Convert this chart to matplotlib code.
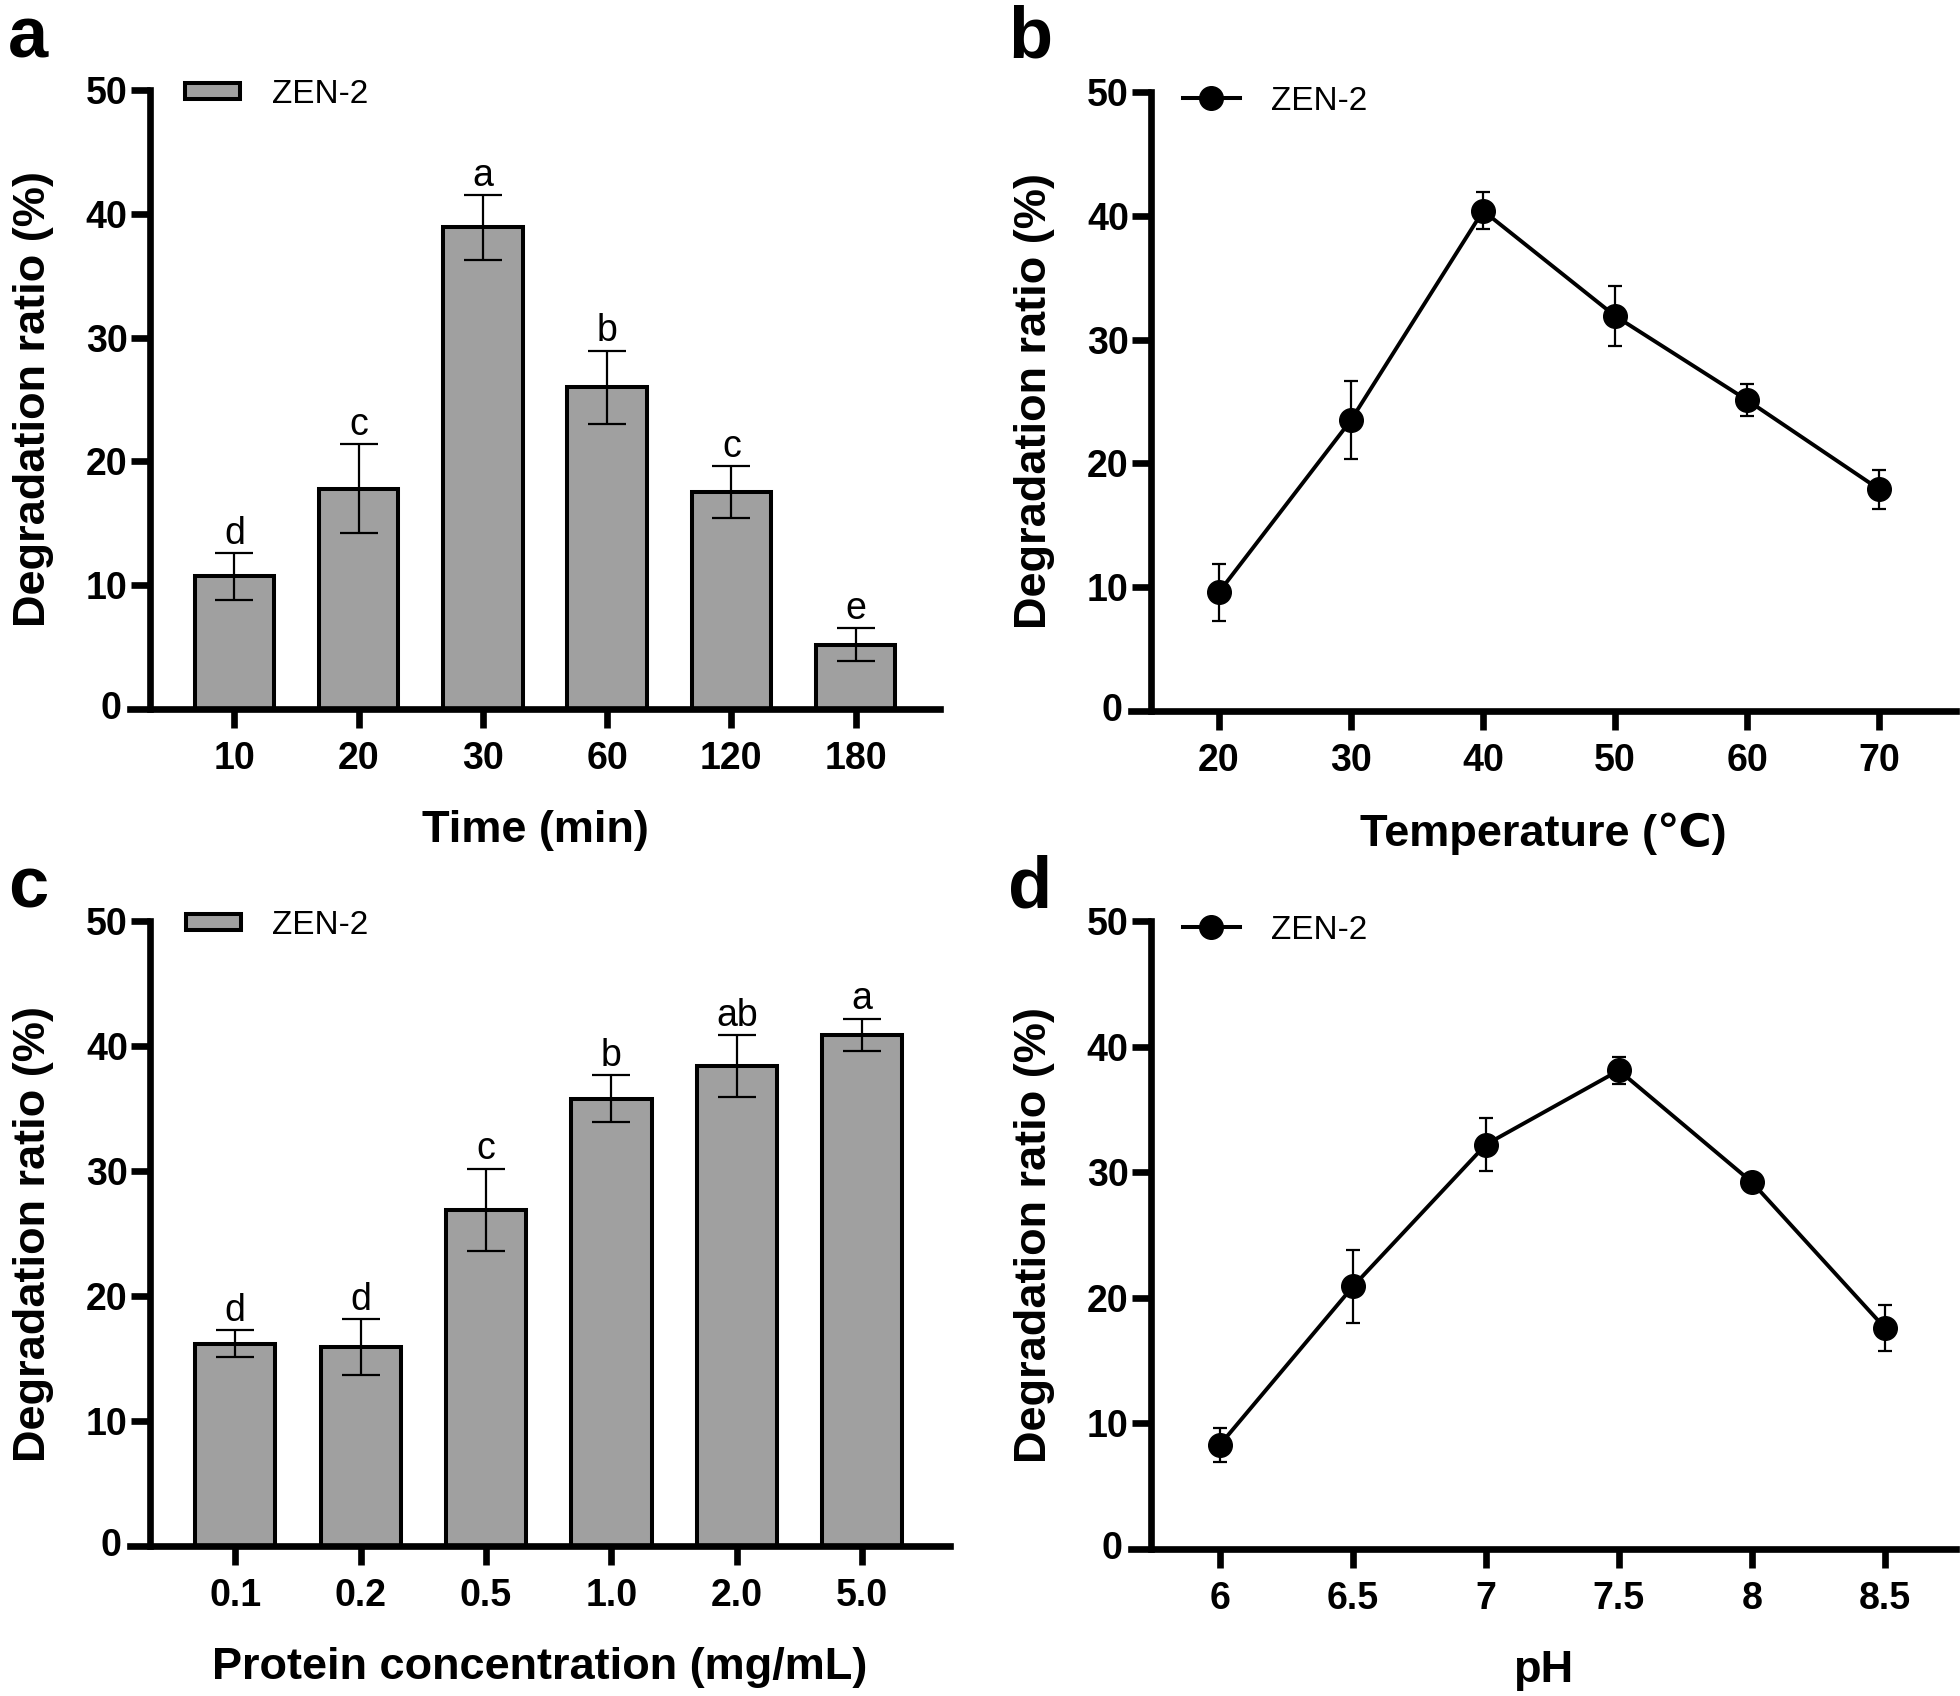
"""
Degradacion de ZEN por ZEN-2: tiempo, temperatura, concentracion y pH
"""

import matplotlib
matplotlib.use("Agg")
import matplotlib.pyplot as plt
from matplotlib.lines import Line2D
from matplotlib.patches import Patch

plt.rcParams['font.family'] = ['Liberation Sans', 'DejaVu Sans']

# Datos
time_labels = ['10', '20', '30', '60', '120', '180']
time_mean = [10.7, 17.8, 38.9, 26.0, 17.5, 5.2]
time_err = [1.9, 3.6, 2.6, 2.95, 2.1, 1.3]
time_sig = ['d', 'c', 'a', 'b', 'c', 'e']

temp_x = [20, 30, 40, 50, 60, 70]
temp_mean = [9.6, 23.5, 40.4, 31.9, 25.1, 17.9]
temp_err = [2.3, 3.15, 1.5, 2.45, 1.3, 1.55]

conc_labels = ['0.1', '0.2', '0.5', '1.0', '2.0', '5.0']
conc_mean = [16.2, 15.9, 26.9, 35.8, 38.4, 40.9]
conc_err = [1.1, 2.25, 3.3, 1.9, 2.45, 1.3]
conc_sig = ['d', 'd', 'c', 'b', 'ab', 'a']

ph_x = [6, 6.5, 7, 7.5, 8, 8.5]
ph_labels = ['6', '6.5', '7', '7.5', '8', '8.5']
ph_mean = [8.3, 20.9, 32.2, 38.1, 29.2, 17.6]
ph_err = [1.35, 2.9, 2.1, 1.05, 0.3, 1.85]

W, H = 1960, 1696
fig = plt.figure(figsize=(W / 100, H / 100), dpi=100)

LW = 4.8
TICK_FS = 27
LABEL_FS = 32.5
LEG_FS = 24
BAR_COLOR = '#a0a0a0'


def estilo_ejes(ax, spine_x, xlim):
    ax.set_xlim(xlim)
    ax.set_ylim(0, 50)
    ax.spines['top'].set_visible(False)
    ax.spines['right'].set_visible(False)
    ax.spines['left'].set_position(('data', spine_x))
    ax.spines['left'].set_linewidth(LW)
    ax.spines['bottom'].set_linewidth(LW)
    ax.spines['left'].set_bounds(0, 50)
    ax.spines['left'].set_capstyle('projecting')
    ax.set_yticks([10, 20, 30, 40, 50])
    ax.tick_params(axis='both', width=LW, length=14, labelsize=TICK_FS)
    ax.tick_params(axis='y', pad=2)
    ax.tick_params(axis='x', pad=9)
    for lab in ax.get_xticklabels() + ax.get_yticklabels():
        lab.set_fontweight('bold')
    # el "0" del eje y queda a la izquierda de la linea del eje x
    ax.annotate('0', xy=(xlim[0], 0), xycoords='data', xytext=(-6, 0),
                textcoords='offset points', ha='right', va='center',
                fontsize=TICK_FS, fontweight='bold', annotation_clip=False)
    ax.set_ylabel('Degradation ratio (%)', fontsize=LABEL_FS, fontweight='bold', labelpad=23)


def grafico_barras(rect, labels, mean, err, sig, xlabel, xlim, spine_x, leg_xy):
    ax = fig.add_axes(rect)
    x = list(range(len(labels)))
    ax.bar(x, mean, width=0.64, color=BAR_COLOR, edgecolor='black', linewidth=2.9,
           zorder=2)
    ax.errorbar(x, mean, yerr=err, fmt='none', ecolor='black', elinewidth=1.6,
                capsize=14, capthick=1.6, zorder=3)
    for xi, m, e, s in zip(x, mean, err, sig):
        ax.text(xi, m + e + 0.1, s, ha='center', va='bottom', fontsize=TICK_FS)
    ax.set_xticks(x)
    ax.set_xticklabels(labels)
    estilo_ejes(ax, spine_x, xlim)
    ax.set_xlabel(xlabel, fontsize=LABEL_FS, fontweight='bold', labelpad=24)
    handle = Patch(facecolor=BAR_COLOR, edgecolor='black', linewidth=2.9)
    ax.legend([handle], ['ZEN-2'], loc='upper left', bbox_to_anchor=leg_xy,
              frameon=False, fontsize=LEG_FS, handlelength=1.65, handleheight=0.35,
              handletextpad=0.95, borderpad=0, borderaxespad=0)
    return ax


def grafico_lineas(rect, xs, mean, err, xticklabels, xlabel, xlim, spine_x, leg_xy):
    ax = fig.add_axes(rect)
    ax.errorbar(xs, mean, yerr=err, color='black', linewidth=2.8, marker='o',
                markersize=17, elinewidth=1.6, capsize=5, capthick=1.6, zorder=3)
    ax.set_xticks(xs)
    ax.set_xticklabels(xticklabels)
    estilo_ejes(ax, spine_x, xlim)
    ax.set_xlabel(xlabel, fontsize=LABEL_FS, fontweight='bold', labelpad=24)
    handle = Line2D([], [], color='black', linewidth=2.9, marker='o', markersize=17)
    ax.legend([handle], ['ZEN-2'], loc='upper left', bbox_to_anchor=leg_xy,
              frameon=False, fontsize=LEG_FS, handlelength=1.7,
              handletextpad=0.95, borderpad=0, borderaxespad=0)
    return ax


ax_a = grafico_barras([0.0663, 0.5820, 0.4133, 0.3650], time_labels, time_mean,
                      time_err, time_sig, 'Time (min)', (-0.84, 5.68), -0.68,
                      (0.068, 1.018))
ax_b = grafico_lineas([0.5770, 0.5808, 0.4209, 0.3650], temp_x, temp_mean, temp_err,
                      [str(v) for v in temp_x], 'Temperature (\u2103)', (13.33, 75.8),
                      14.85, (0.063, 1.01))
ax_c = grafico_barras([0.0663, 0.0884, 0.4184, 0.3685], conc_labels, conc_mean,
                      conc_err, conc_sig, 'Protein concentration (mg/mL)', (-0.84, 5.70),
                      -0.68, (0.068, 1.018))
ax_d = grafico_lineas([0.5770, 0.0867, 0.4209, 0.3703], ph_x, ph_mean, ph_err,
                      ph_labels, 'pH', (5.665, 8.767), 5.74, (0.063, 1.01))

# letras de panel
for letra, (px, py) in zip('abcd', [(8, 4), (1008, 4), (8, 854), (1008, 854)]):
    fig.text(px / W, 1 - py / H, letra, fontsize=52, fontweight='bold',
             ha='left', va='top')

fig.savefig('out.png', dpi=100)
